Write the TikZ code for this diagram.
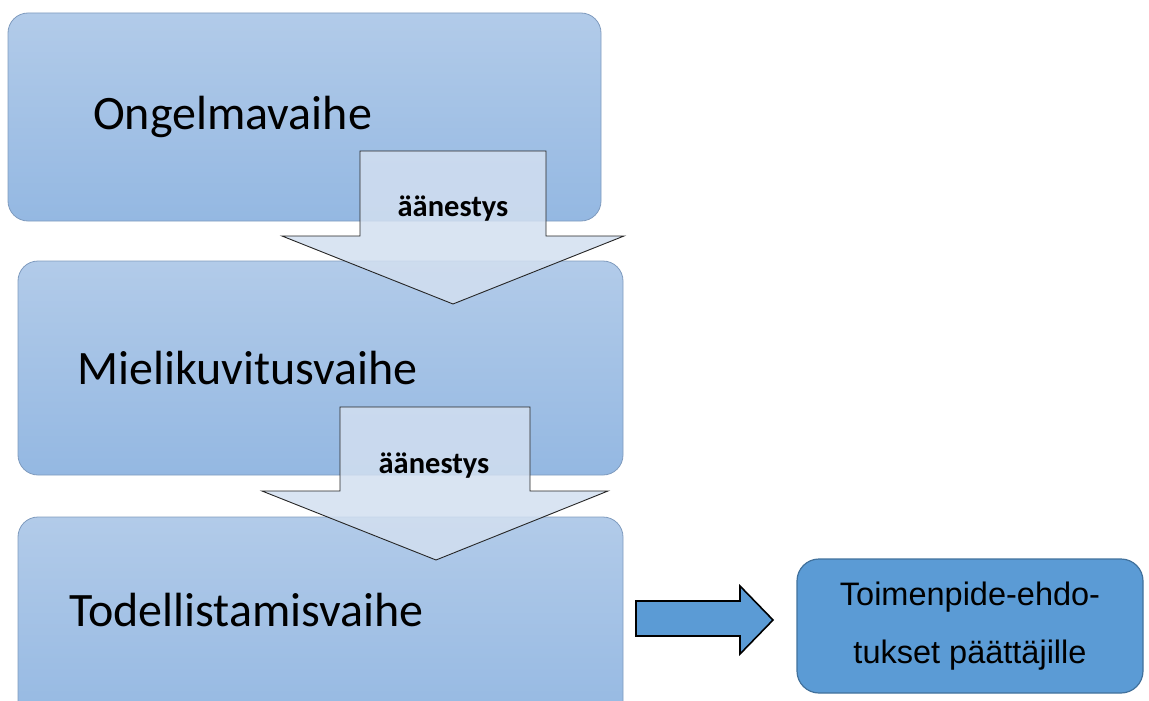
\documentclass[tikz,border=0pt]{standalone}
\usepackage{fontspec}
\setmainfont{Carlito}
\newfontfamily\arialfont{Liberation Sans}
\definecolor{boxtop}{HTML}{B2CBE9}
\definecolor{boxbot}{HTML}{94B8E2}
\definecolor{boxline}{HTML}{7F9BBE}
\definecolor{arrfill}{HTML}{D2DFF0}
\definecolor{bluefill}{HTML}{5B9BD5}
\definecolor{blueline}{HTML}{41719C}
\begin{document}
\begin{tikzpicture}[x=1pt,y=-1pt,
  phase/.style={draw=boxline, line width=0.8pt, rounded corners=20pt, top color=boxtop, bottom color=boxbot, inner sep=0pt},
  phasetext/.style={anchor=west, inner sep=0pt, font=\fontsize{48}{56}\selectfont},
  votearrow/.style={draw=black!85, line width=0.9pt, fill=arrfill, fill opacity=0.85, line join=miter},
  votetext/.style={inner sep=0pt, font=\bfseries\fontsize{30.5}{36}\selectfont},
  outbox/.style={draw=blueline, line width=1.2pt, fill=bluefill, rounded corners=22pt, inner sep=0pt},
  outarrow/.style={draw=black, line width=1.6pt, fill=bluefill, line join=miter}]
\useasboundingbox (0,0) rectangle (1149,701);
\begin{scope}
\clip (0,0) rectangle (1149,701);
\node[phase, minimum width=593pt, minimum height=208pt] (b1) at (304.5,117) {};
\node[phase, minimum width=605pt, minimum height=214pt] (b2) at (320.5,368) {};
\node[phase, minimum width=605pt, minimum height=213pt] (b3) at (320.5,623.5) {};
\end{scope}
\node[phasetext] (t1) at (93,117) {Ongelmavaihe};
\node[phasetext] (t2) at (77,368) {Mielikuvitusvaihe};
\node[phasetext] (t3) at (69,610) {Todellistamisvaihe};
% vote arrows
\draw[votearrow] (360,151) -- (546,151) -- (546,236) -- (624,236) -- (453,304) -- (282,236) -- (360,236) -- cycle;
\node[votetext] (v1) at (453,209) {äänestys};
\draw[votearrow] (340,407) -- (530,407) -- (530,491) -- (608,491) -- (436,560) -- (262,491) -- (340,491) -- cycle;
\node[votetext] (v2) at (434,466) {äänestys};
% output
\node[outbox, minimum width=346pt, minimum height=134pt] (b4) at (970,626) {};
\node[inner sep=0pt, align=center, font=\arialfont\fontsize{32.5}{58}\selectfont] (t4) at (b4) {Toimenpide-ehdo-\\tukset päättäjille};
\draw[outarrow] (636,601) -- (740,601) -- (740,586) -- (773,620) -- (740,654) -- (740,636) -- (636,636) -- cycle;
\end{tikzpicture}
\end{document}
